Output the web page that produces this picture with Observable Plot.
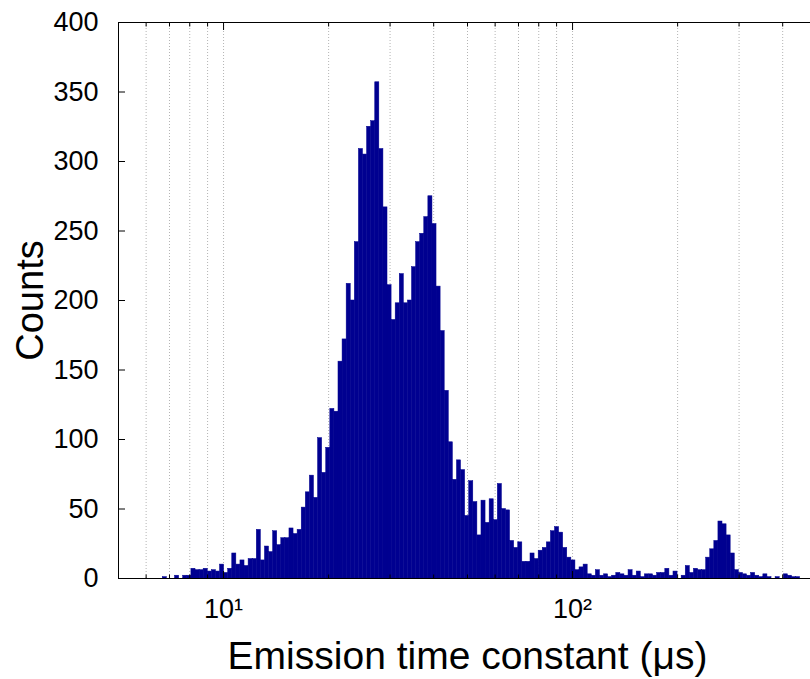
<!DOCTYPE html>
<html>
<head>
<meta charset="utf-8">
<script src="https://cdn.jsdelivr.net/npm/d3@7"></script>
<script src="https://cdn.jsdelivr.net/npm/@observablehq/plot@0.6"></script>
<style>
html, body { margin: 0; padding: 0; background: #fff; overflow: hidden; }
#chart { width: 810px; height: 679px; overflow: hidden; }
#chart svg { max-width: none !important; }
</style>
</head>
<body>
<div id="chart"></div>
<script>
// Histogram counts, one per logarithmic bin
const counts = [
  0, 1, 0, 0, 2, 0, 2, 2,
  7, 6, 6, 7, 5, 6, 5, 10,
  4, 7, 18, 10, 13, 9, 14, 14,
  35, 13, 23, 19, 34, 24, 29, 29,
  36, 32, 35, 51, 62, 74, 58, 101,
  76, 94, 122, 120,
  156, 172, 212, 200, 242, 309, 305, 325, 329, 357,
  309, 267, 211, 186, 198, 219, 198, 200, 224, 242,
  248, 260, 275, 255, 210, 178, 135, 98, 71, 85,
  78, 45, 70, 55, 31, 56, 40, 57, 42, 68,
  50, 49, 27, 22, 26, 12, 12, 18, 14, 20,
  22, 26, 34, 37, 33, 22, 15, 13, 6, 8,
  10, 3, 2, 6, 2, 3, 1, 2, 4, 3,
  2, 6, 2, 5, 1, 3, 3, 2, 4, 4,
  7, 2, 5, 0, 2, 9, 4, 7, 6, 6,
  15, 21, 27, 41, 39, 31, 18, 6, 4, 3,
  2, 4, 2, 1, 3, 1, 0, 1, 0, 3,
  2, 1, 1
];
// Bin layout: lower edge of the first bin (µs) and the constant ratio between edges
const binEdgeStart = 6.52;
const binRatio = 1.02732;

const xDomain = [5, 500];
const yDomain = [0, 400];
const yTicks = [0, 50, 100, 150, 200, 250, 300, 350, 400];
const xMajorTicks = [10, 100];
const xMajorLabels = ["10\u00B9", "10\u00B2"];
const xMinorTicks = [6, 7, 8, 9, 20, 30, 40, 50, 60, 70, 80, 90, 200, 300, 400];
const xLabel = "Emission time constant (\u03BCs)";
const yLabel = "Counts";

const bins = counts.map((c, i) => ({
  x1: binEdgeStart * Math.pow(binRatio, i),
  x2: binEdgeStart * Math.pow(binRatio, i + 1),
  count: c
})).filter(d => d.count > 0);

const gridTicks = [...xMinorTicks, ...xMajorTicks];
const barColor = "#000090";

const chart = Plot.plot({
  width: 826,
  height: 679,
  marginLeft: 118,
  marginRight: 10,
  marginTop: 22,
  marginBottom: 101,
  style: { fontFamily: "'Liberation Sans', Arial, Helvetica, sans-serif", background: "#fff", color: "#000", maxWidth: "none" },
  x: { type: "log", domain: xDomain },
  y: { domain: yDomain },
  marks: [
    Plot.ruleX(gridTicks, { stroke: "#b4b4b4", strokeDasharray: "1,2", strokeWidth: 1 }),
    Plot.rectY(bins, { x1: "x1", x2: "x2", y: "count", fill: barColor, stroke: barColor, strokeWidth: 0.5, inset: 0 }),
    Plot.frame({ stroke: "#000", strokeWidth: 1 }),
    // inward ticks, all four sides
    Plot.axisX(xMajorTicks, { anchor: "bottom", tickSize: -7, fill: "none", label: null }),
    Plot.axisX(xMinorTicks, { anchor: "bottom", tickSize: -3.5, fill: "none", label: null }),
    Plot.axisX(xMajorTicks, { anchor: "top", tickSize: -7, fill: "none", label: null }),
    Plot.axisX(xMinorTicks, { anchor: "top", tickSize: -3.5, fill: "none", label: null }),
    Plot.axisY(yTicks, { anchor: "left", tickSize: -7, fill: "none", label: null }),
    Plot.axisY(yTicks, { anchor: "right", tickSize: -7, fill: "none", label: null }),
    // tick labels
    Plot.axisY(yTicks, { anchor: "left", tickSize: 0, tickPadding: 20, stroke: "none", fontSize: 27, label: null }),
    Plot.axisX(xMajorTicks, { anchor: "bottom", tickSize: 0, tickPadding: 20, stroke: "none", fontSize: 27, label: null,
      tickFormat: d => xMajorLabels[xMajorTicks.indexOf(d)] }),
    // axis titles
    Plot.text([yLabel], { frameAnchor: "left", rotate: -90, dx: -88, fontSize: 38, textAnchor: "middle" }),
    Plot.text([xLabel], { frameAnchor: "bottom", dy: 78, fontSize: 39, textAnchor: "middle", lineAnchor: "middle" })
  ]
});
document.getElementById("chart").appendChild(chart);
</script>
</body>
</html>
